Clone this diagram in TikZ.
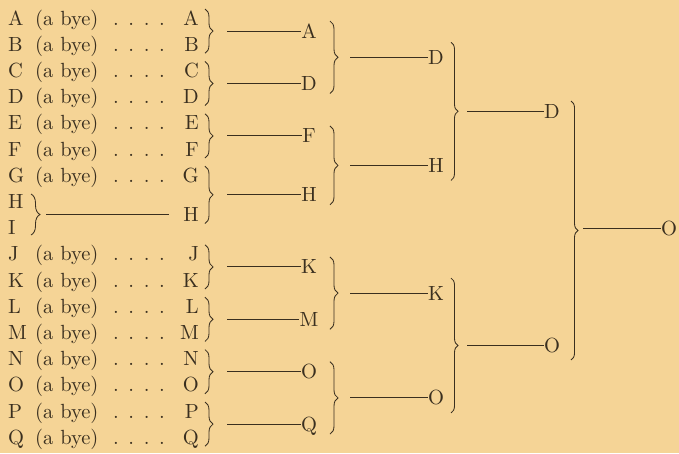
\documentclass[tikz,border=0pt]{standalone}
\usepackage{fontspec}
\setmainfont{lmroman10-regular}[Extension=.otf]
\usetikzlibrary{decorations.pathreplacing}
\definecolor{paper}{HTML}{F5D496}
\definecolor{ink}{HTML}{3A2F1F}
\begin{document}
\begin{tikzpicture}[x=1pt,y=-1pt,
  every node/.style={font=\fontsize{20.5}{22}\selectfont, text=ink, inner sep=0pt, text height=14pt, text depth=0pt},
  wire/.style={draw=ink, line width=0.85pt},
  brc/.style={draw=ink, line width=0.85pt, decorate, decoration={brace, amplitude=#1}},
  lbl/.style={anchor=center}
]
\fill[paper] (0,0) rectangle (679,453);
\useasboundingbox (0,0) rectangle (679,453);
% entries
\foreach \l/\i in {A/0,B/1,C/2,D/3,E/4,F/5,G/6,J/9,K/10,L/11,M/12,N/13,O/14,P/15,Q/16} {
  \pgfmathsetmacro\yy{18+26.2*\i}
  \node[anchor=west] (L\l) at (8,\yy) {\l};
  \node[anchor=west] (B\l) at (35,\yy) {(a bye)};
  \node[anchor=west] (D\l) at (113,\yy) {.\hspace{9.6pt}.\hspace{9.6pt}.\hspace{9.6pt}.};
  \node[anchor=east] (R\l) at (199,\yy) {\l};
}
\node[anchor=west] (LH) at (8,201.4) {H};
\node[anchor=west] (LI) at (8,227.6) {I};
\draw[brc=9pt] (31,194) -- (31,235);
\coordinate (sHI) at (46,214.5);
\node[anchor=east] (RH) at (199,214.5) {H};
\draw[wire, shorten >=14pt] (sHI) -- (RH.west);
% round 1
\foreach \n/\a/\b in {A/18/44.2, D/70.4/96.6, F/122.8/149, H/175.2/214.5, K/253.8/280, M/306.2/332.4, O/358.6/384.8, Q/411/437.2} {
  \pgfmathsetmacro\ym{(\a+\b)/2}
  \pgfmathsetmacro\yt{\a-9}
  \pgfmathsetmacro\yb{\b+9}
  \draw[brc=8pt] (205,\yt) -- (205,\yb);
  \coordinate (s1\n) at (227,\ym);
  \node[lbl] (r1\n) at (309,\ym) {\n};
  \draw[wire] (s1\n) -- (r1\n.west);
}
% round 2
\foreach \n/\a/\b in {D/31.1/83.5, H/135.9/194.85, K/266.9/319.3, O/371.7/424.1} {
  \pgfmathsetmacro\ym{(\a+\b)/2}
  \pgfmathsetmacro\yt{\a-10}
  \pgfmathsetmacro\yb{\b+10}
  \draw[brc=8pt] (330,\yt) -- (330,\yb);
  \coordinate (s2\n) at (350,\ym);
  \node[lbl] (r2\n) at (436,\ym) {\n};
  \draw[wire] (s2\n) -- (r2\n.west);
}
% round 3
\foreach \n/\a/\b in {D/57.3/165.4, O/293.1/397.9} {
  \pgfmathsetmacro\ym{(\a+\b)/2}
  \pgfmathsetmacro\yt{\a-15}
  \pgfmathsetmacro\yb{\b+15}
  \draw[brc=7pt] (451,\yt) -- (451,\yb);
  \coordinate (s3\n) at (467,\ym);
  \node[lbl] (r3\n) at (552,\ym) {\n};
  \draw[wire] (s3\n) -- (r3\n.west);
}
% final
\draw[brc=7pt] (571,101) -- (571,360);
\coordinate (s4) at (583,228.4);
\node[lbl] (win) at (669,228.4) {O};
\draw[wire] (s4) -- (win.west);
\end{tikzpicture}
\end{document}
